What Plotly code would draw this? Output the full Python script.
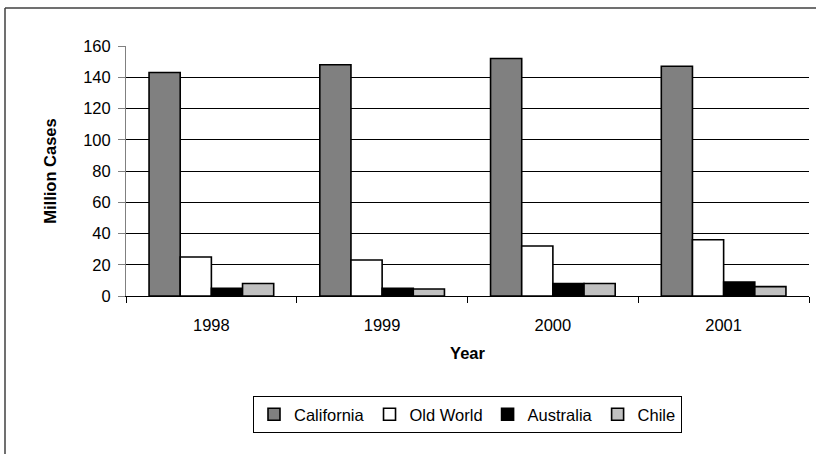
import plotly.graph_objects as go

# Wine shipments by producing region, million cases
years = ["1998", "1999", "2000", "2001"]
california = [143, 148, 152, 147]
old_world = [25, 23, 32, 36]
australia = [5, 5, 8, 9]
chile = [8, 4.5, 8, 6]

series = [
    ("California", california, "#808080"),
    ("Old World", old_world, "#ffffff"),
    ("Australia", australia, "#000000"),
    ("Chile", chile, "#c0c0c0"),
]

FONT = "Arial, Liberation Sans, sans-serif"
SIZE = 16.5

fig = go.Figure()
for name, vals, color in series:
    fig.add_trace(go.Bar(
        x=years, y=vals, name=name,
        marker=dict(color=color, line=dict(color="#000000", width=1.6)),
    ))

# outer chart frame: top and left edges
frame = dict(type="line", xref="paper", yref="paper",
             line=dict(color="#404040", width=1.5), layer="below")
shapes = [
    dict(frame, x0=(5 - 126) / 683, x1=(830 - 126) / 683,
         y0=(296 - 8) / 250, y1=(296 - 8) / 250),
    dict(frame, x0=(5 - 126) / 683, x1=(5 - 126) / 683,
         y0=(296 - 8) / 250, y1=(296 - 470) / 250),
]

fig.update_layout(
    width=816, height=454,
    margin=dict(l=126, r=7, t=46, b=158),
    paper_bgcolor="white", plot_bgcolor="white",
    barmode="group", bargap=0.27, bargroupgap=0,
    font=dict(family=FONT, size=SIZE, color="black"),
    showlegend=True,
    legend=dict(
        orientation="h", x=0.5, xanchor="center", y=-0.4, yanchor="top",
        bordercolor="#000000", borderwidth=1,
        font=dict(family=FONT, size=SIZE),
        itemwidth=30, tracegroupgap=0,
    ),
    xaxis=dict(
        type="category", showline=True, linecolor="black", linewidth=1,
        ticks="outside", tickson="boundaries", ticklen=6, tickcolor="black",
        ticklabelstandoff=14,
        showgrid=False, tickfont=dict(size=SIZE),
        title=dict(text="<b>Year</b>", font=dict(size=SIZE), standoff=14),
    ),
    yaxis=dict(
        range=[0, 160], dtick=20, showline=True, linecolor="#808080",
        linewidth=1, ticks="outside", ticklen=7, tickcolor="#808080",
        ticklabelstandoff=4,
        showgrid=True, gridcolor="black", gridwidth=1, zeroline=False,
        tickfont=dict(size=SIZE),
        title=dict(text="<b>Million Cases</b>", font=dict(size=SIZE), standoff=22),
    ),
    shapes=shapes,
)

fig.write_html("out.html")
